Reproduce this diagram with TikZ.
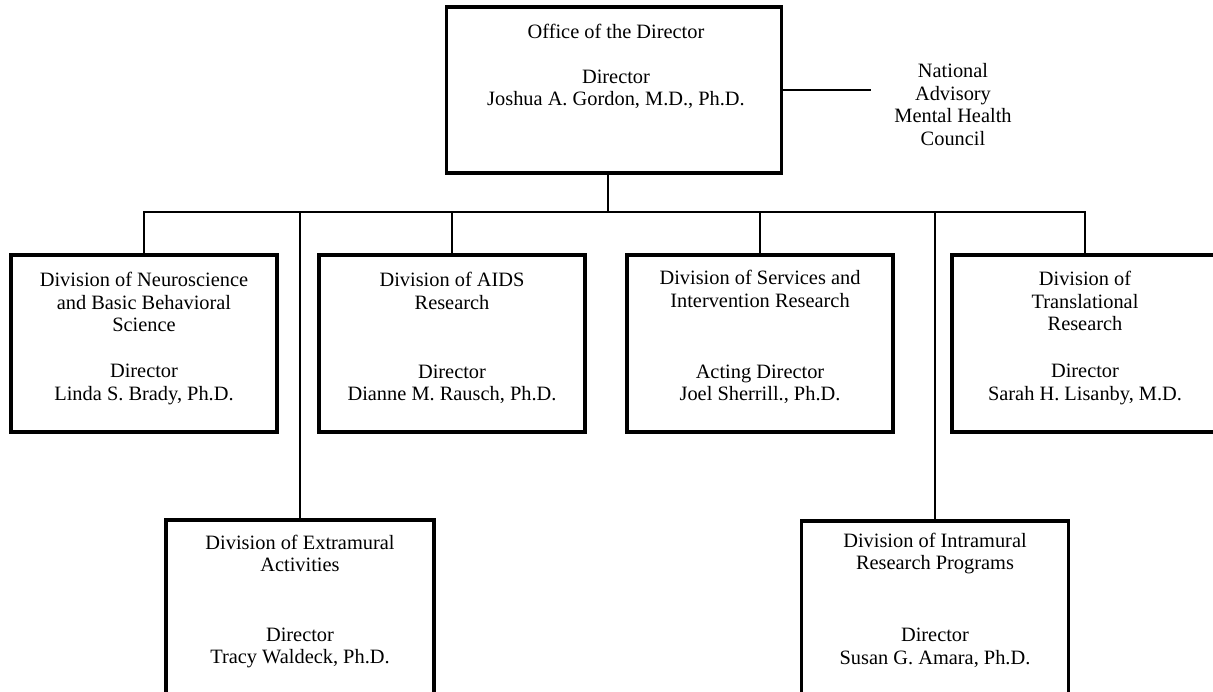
\documentclass[tikz,border=0pt]{standalone}
\usepackage{fontspec}
\setmainfont{Liberation Serif}
\begin{document}
\begin{tikzpicture}[
    x=0.02cm, y=-0.02cm,
    unit/.style 2 args={draw,line width=2pt,minimum width=#1,minimum height=#2,inner sep=0pt},
    txt/.style={align=center,inner sep=0pt,font=\fontsize{11.6}{12.8}\selectfont},
    link/.style={draw,line width=0.8pt}
]
\useasboundingbox (0,0) rectangle (1213,692);

%Draw the boxes
\node[unit={6.7cm}{3.32cm}] (ood) at (614,90) {};
\node[unit={5.32cm}{3.54cm}] (nbb) at (144,343.5) {};
\node[unit={5.32cm}{3.54cm}] (air) at (452,343.5) {};
\node[unit={5.32cm}{3.54cm}] (sir) at (760,343.5) {};
\node[unit={5.32cm}{3.54cm}] (tr) at (1085,343.5) {};
\node[unit={5.36cm}{3.54cm}] (ea) at (300,608.5) {};
\node[unit={5.34cm}{3.54cm}] (ir) at (935,609.5) {};

%Texts in the boxes
\node[txt] (ood-t) at (616,31) {Office of the Director};
\node[txt] (ood-h) at (616,89.5) {Director\\Joshua A. Gordon, M.D., Ph.D.};
\node[txt] (nbb-t) at (144,302) {Division of Neuroscience\\and Basic Behavioral\\Science};
\node[txt] (nbb-h) at (144,384.5) {Director\\Linda S. Brady, Ph.D.};
\node[txt] (air-t) at (452,291) {Division of AIDS\\Research};
\node[txt] (air-h) at (452,384.5) {Director\\Dianne M. Rausch, Ph.D.};
\node[txt] (sir-t) at (760,289) {Division of Services and\\Intervention Research};
\node[txt] (sir-h) at (760,384.5) {Acting Director\\Joel Sherrill., Ph.D.};
\node[txt] (tr-t) at (1085,301) {Division of\\Translational\\Research};
\node[txt] (tr-h) at (1085,384.5) {Director\\Sarah H. Lisanby, M.D.};
\node[txt] (ea-t) at (300,553.5) {Division of Extramural\\Activities};
\node[txt] (ea-h) at (300,648) {Director\\Tracy Waldeck, Ph.D.};
\node[txt] (ir-t) at (935,553.5) {Division of Intramural\\Research Programs};
\node[txt] (ir-h) at (935,648) {Director\\Susan G. Amara, Ph.D.};
\node[txt] (nam) at (953,104.5) {National\\Advisory\\Mental Health\\Council};

%Draw the connections
\coordinate (bus) at (608,212);
\draw[link] (ood.south -| bus) -- (bus);
\draw[link] (nbb.north) -- (nbb.north |- bus) -- (tr.north |- bus) -- (tr.north);
\draw[link] (air.north) -- (air.north |- bus);
\draw[link] (sir.north) -- (sir.north |- bus);
\draw[link] (ea.north) -- (ea.north |- bus);
\draw[link] (ir.north) -- (ir.north |- bus);
\draw[link] (ood.east) -- ([xshift=-0.46cm]ood.east -| nam.west);

\end{tikzpicture}
\end{document}
